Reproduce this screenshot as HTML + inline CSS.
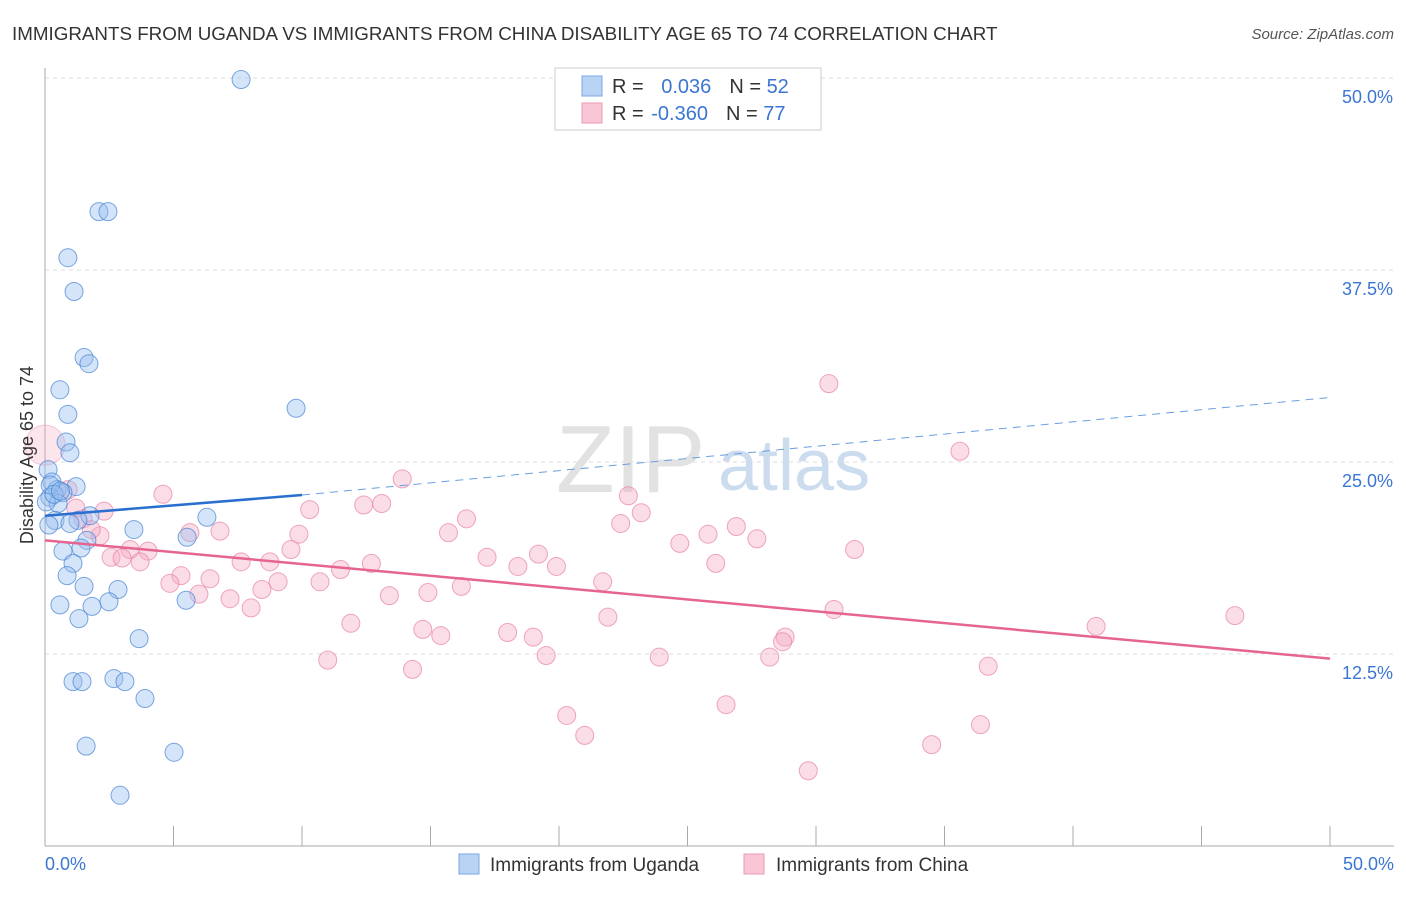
<!DOCTYPE html>
<html><head><meta charset="utf-8"><style>
body{margin:0;background:#fff;font-family:"Liberation Sans",sans-serif}
svg text{font-family:"Liberation Sans",sans-serif}
</style></head><body>
<svg width="1406" height="892" viewBox="0 0 1406 892">
<text x="12" y="40" font-size="18.8" fill="#333">IMMIGRANTS FROM UGANDA VS IMMIGRANTS FROM CHINA DISABILITY AGE 65 TO 74 CORRELATION CHART</text>
<text x="1394" y="39" font-size="15" fill="#555" font-style="italic" text-anchor="end">Source: ZipAtlas.com</text>
<g id="grid"></g>
<text x="556" y="492" font-size="96" fill="#e2e2e2" font-family="Liberation Serif">ZIP</text>
<text x="718" y="490" font-size="72" fill="#ccdcef">atlas</text>
<g id="pts"></g>
<g id="lines"></g>
<text transform="translate(33,455) rotate(-90)" font-size="18" fill="#333" text-anchor="middle">Disability Age 65 to 74</text>
<rect x="555" y="68" width="266" height="62" fill="#fff" stroke="#ccc"/>
<rect x="582" y="76" width="20" height="20" fill="#b9d3f5" stroke="#7aa7e3"/>
<rect x="582" y="103" width="20" height="20" fill="#f9c6d6" stroke="#ec9ab5"/>
<text x="612" y="93" font-size="20" fill="#333">R = <tspan fill="#3b76d2" dx="12">0.036</tspan><tspan fill="#333" dx="18">N = </tspan><tspan fill="#3b76d2">52</tspan></text>
<text x="612" y="120" font-size="20" fill="#333">R = <tspan fill="#3b76d2" dx="2">-0.360</tspan><tspan fill="#333" dx="18">N = </tspan><tspan fill="#3b76d2">77</tspan></text>
<rect x="459" y="854" width="20" height="20" fill="#b9d3f5" stroke="#7aa7e3"/>
<text x="490" y="871" font-size="19" fill="#333">Immigrants from Uganda</text>
<rect x="744" y="854" width="20" height="20" fill="#f9c6d6" stroke="#ec9ab5"/>
<text x="776" y="871" font-size="19" fill="#333">Immigrants from China</text>
</svg>
<script>
const yTicks=[12.5,25,37.5,50];
const yTickLabels=["12.5%","25.0%","37.5%","50.0%"];
const xTickLabels=["0.0%","50.0%"];
const ugX=[7.63,2.10,2.45,0.89,1.13,1.52,1.71,0.58,0.89,9.77,0.82,0.97,0.12,0.27,1.21,0.47,0.70,0.19,0.51,0.39,1.75,1.28,0.97,6.30,3.46,5.53,1.63,1.40,0.70,1.09,0.86,1.52,2.84,5.49,0.58,1.83,2.49,1.32,3.66,1.09,1.44,2.68,3.11,3.89,1.60,5.02,2.92,0.2,0.05,0.35,0.6,0.15];
const ugY=[49.9,41.3,41.3,38.3,36.1,31.8,31.4,29.7,28.1,28.5,26.3,25.6,24.5,23.7,23.4,23.2,23.0,22.7,22.3,21.2,21.5,21.2,21.0,21.4,20.6,20.1,19.9,19.4,19.2,18.4,17.6,16.9,16.7,16.0,15.7,15.6,15.9,14.8,13.5,10.7,10.7,10.9,10.7,9.6,6.5,6.1,3.3,23.5,22.4,22.9,23.1,20.9];
const cnX=[30.5,35.6,13.9,4.59,22.7,12.4,13.1,10.3,23.2,16.4,22.4,26.9,5.64,6.81,9.88,15.7,25.8,27.7,24.7,2.14,3.31,4.01,9.57,31.5,19.2,17.2,2.57,3.0,3.70,7.63,8.75,12.7,18.4,19.9,26.1,11.5,5.29,6.42,9.07,10.7,21.7,4.86,16.2,8.44,5.99,7.20,13.4,14.9,8.02,30.7,21.9,46.3,11.9,40.9,14.7,15.4,18.0,19.0,28.8,28.7,19.5,23.9,28.2,11.0,14.3,36.7,26.5,20.3,36.4,21.0,34.5,29.7,1.48,1.2,1.8,0.9,2.3];
const cnY=[30.1,25.7,23.9,22.9,22.8,22.2,22.3,21.9,21.7,21.3,21.0,20.8,20.4,20.5,20.3,20.4,20.3,20.0,19.7,20.2,19.3,19.2,19.3,19.3,19.0,18.8,18.8,18.75,18.5,18.5,18.5,18.4,18.2,18.2,18.4,18.0,17.6,17.4,17.2,17.2,17.2,17.1,16.9,16.7,16.4,16.1,16.3,16.5,15.5,15.4,14.9,15.0,14.5,14.3,14.1,13.7,13.9,13.6,13.6,13.3,12.4,12.3,12.3,12.1,11.5,11.7,9.2,8.5,7.9,7.2,6.6,4.9,21.3,22.0,20.6,23.2,21.8];
const ugTrend=[[0,21.5],[10,22.85],[50,29.2]];
const cnTrend=[[0,19.9],[50,12.2]];
const X=v=>45+v/50*1285, Y=v=>846-v/12.5*192;
const NS="http://www.w3.org/2000/svg";
function mk(t,a,p){const e=document.createElementNS(NS,t);for(const k in a)e.setAttribute(k,a[k]);p.appendChild(e);return e;}
const grid=document.getElementById('grid');
yTicks.forEach((t,i)=>{
 const l=mk('line',{x1:45,x2:1394,y1:Y(t),y2:Y(t),stroke:'#ddd','stroke-dasharray':'4,4'},grid);
 
 
 const tx=mk('text',{x:1393,y:Y(t)+25,'font-size':18,fill:'#3b76d2','text-anchor':'end'},grid);
 tx.textContent=yTickLabels[i];
 
 
});
const ax=mk('line',{x1:45,x2:45,y1:68,y2:846,stroke:'#aaa'},grid);


const bx=mk('line',{x1:45,x2:1394,y1:846,y2:846,stroke:'#aaa'},grid);


for(let i=0;i<=10;i++){const t=mk('line',{x1:X(i*5),x2:X(i*5),y1:826,y2:846,stroke:'#aaa'},grid);
 
 }
[[0,'start',45],[50,'end',1394]].forEach((d,i)=>{const t=mk('text',{x:d[2],y:870,'font-size':18,fill:'#3b76d2','text-anchor':d[1]},grid);t.textContent=xTickLabels[i];
 
 });
const pts=document.getElementById('pts');
const big=mk('circle',{cx:X(0),cy:Y(26.1),r:20,fill:'rgba(246,170,196,0.3)',stroke:'rgba(232,130,165,0.4)'},pts);


cnX.forEach((x,i)=>{const c=mk('circle',{cx:X(x),cy:Y(cnY[i]),r:9,fill:'rgba(246,170,196,0.4)',stroke:'rgba(232,130,165,0.7)','stroke-width':1},pts);
 
 });
ugX.forEach((x,i)=>{const c=mk('circle',{cx:X(x),cy:Y(ugY[i]),r:9,fill:'rgba(150,190,240,0.4)',stroke:'rgba(70,130,210,0.7)','stroke-width':1},pts);
 
 });
const lines=document.getElementById('lines');
const a=mk('line',{x1:X(ugTrend[0][0]),y1:Y(ugTrend[0][1]),x2:X(ugTrend[1][0]),y2:Y(ugTrend[1][1]),stroke:'#2a6fd0','stroke-width':2.5},lines);


const b=mk('line',{x1:X(ugTrend[1][0]),y1:Y(ugTrend[1][1]),x2:X(ugTrend[2][0]),y2:Y(ugTrend[2][1]),stroke:'#6a9ee0','stroke-width':1,'stroke-dasharray':'8,6'},lines);


const c=mk('line',{x1:X(cnTrend[0][0]),y1:Y(cnTrend[0][1]),x2:X(cnTrend[1][0]),y2:Y(cnTrend[1][1]),stroke:'#e6658f','stroke-width':2.5},lines);


</script>
</body></html>
